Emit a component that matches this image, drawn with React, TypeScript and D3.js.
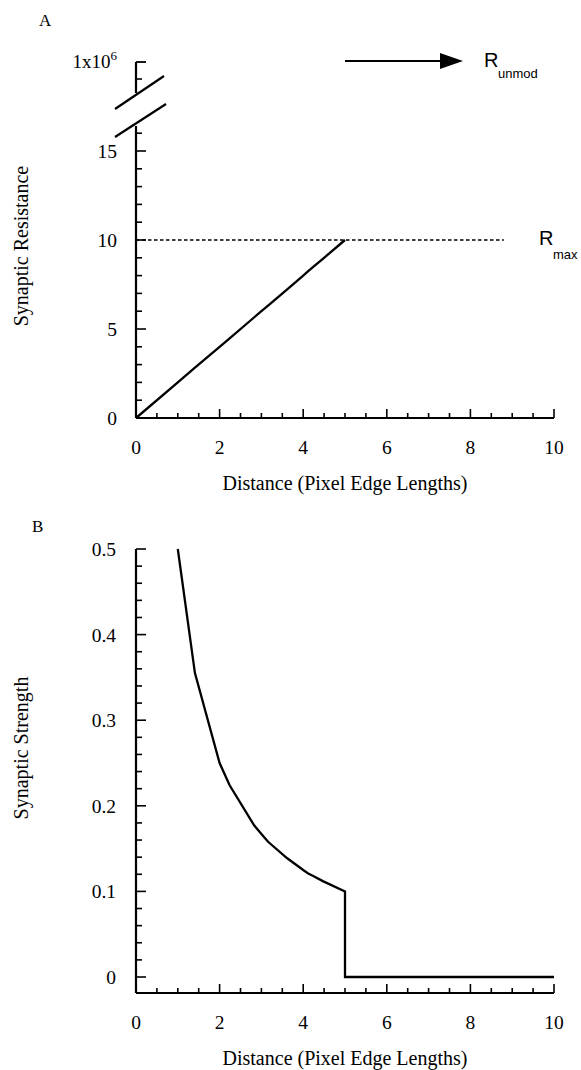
import React from "react";
import * as d3 from "d3";

// Distances (pixel edge lengths) at which the synapse values were sampled
const distances = [0, 1, 1.41, 2, 2.24, 2.83, 3, 3.16, 3.61, 4, 4.12, 4.24, 4.47, 5];
const resistance = [0, 2, 2.83, 4, 4.47, 5.66, 6, 6.32, 7.21, 8, 8.25, 8.49, 8.94, 10];

const strengthDistances = [1, 1.41, 2, 2.24, 2.83, 3, 3.16, 3.61, 4, 4.12, 4.24, 4.47, 5, 5, 10];
const strength = [0.5, 0.355, 0.25, 0.224, 0.177, 0.167, 0.158, 0.139, 0.125, 0.121, 0.118, 0.112, 0.1, 0, 0];

const rMax = 10;
const rMaxExtent = [0, 8.8];

const xTickLabels = [0, 2, 4, 6, 8, 10];
const resistanceTickLabels = [0, 5, 10, 15];
const strengthTickLabels = [0, 0.1, 0.2, 0.3, 0.4, 0.5];

const W = 581;
const H = 1070;
const serif = "'Liberation Serif', 'Times New Roman', serif";
const sans = "'Liberation Sans', Arial, sans-serif";

const x = d3.scaleLinear().domain([0, 10]).range([136, 554]);
const yA = d3.scaleLinear().domain([0, 15]).range([418, 151]);
const yB = d3.scaleLinear().domain([0, 0.5]).range([977, 549]);

const axisA = 418;
const axisB = 993;
const breakTop = 62; // position of the 1x10^6 tick above the axis break

const lineA = d3
  .line<number>()
  .x((_, i) => x(distances[i]))
  .y((d) => yA(d));

const lineB = d3
  .line<number>()
  .x((_, i) => x(strengthDistances[i]))
  .y((d) => yB(d));

function XAxis({ y0 }: { y0: number }) {
  const minor = d3.range(0, 10.001, 0.5);
  return (
    <g>
      <line x1={x(0)} x2={x(10)} y1={y0} y2={y0} stroke="#000" strokeWidth={2.2} />
      {minor.map((v) => {
        const major = Math.abs(v % 2) < 1e-6;
        return (
          <line
            key={v}
            x1={x(v)}
            x2={x(v)}
            y1={y0}
            y2={y0 - (major ? 9 : 5)}
            stroke="#000"
            strokeWidth={1.6}
          />
        );
      })}
      {xTickLabels.map((v) => (
        <text
          key={v}
          x={x(v)}
          y={y0 + 36}
          textAnchor="middle"
          fontFamily={serif}
          fontSize={19.5}
        >
          {v}
        </text>
      ))}
      <text x={x(5)} y={y0 + 72} textAnchor="middle" fontFamily={serif} fontSize={20}>
        Distance (Pixel Edge Lengths)
      </text>
    </g>
  );
}

export default function App() {
  const x0 = x(0);
  const minorA = d3.range(0, 16.001, 1);
  const minorB = d3.range(0, 0.5001, 0.02);

  return (
    <svg width={W} height={H} style={{ display: "block", position: "absolute", left: 0, top: 0 }}>
      <rect width={W} height={H} fill="#fff" />

      {/* Panel A: synaptic resistance */}
      <text x={39} y={26} fontFamily={serif} fontSize={17}>A</text>
      <text
        transform={`translate(28, 246) rotate(-90)`}
        textAnchor="middle"
        fontFamily={serif}
        fontSize={20}
      >
        Synaptic Resistance
      </text>

      {/* y axis, split by a break */}
      <line x1={x0} x2={x0} y1={breakTop} y2={93} stroke="#000" strokeWidth={2.2} />
      <line x1={x0} x2={x0} y1={yA(16.4)} y2={axisA} stroke="#000" strokeWidth={2.2} />
      <line x1={x0} x2={x0 + 10} y1={breakTop} y2={breakTop} stroke="#000" strokeWidth={1.8} />
      <line x1={x0} x2={x0 + 6} y1={79} y2={79} stroke="#000" strokeWidth={1.6} />
      <line x1={115} y1={109} x2={164} y2={76} stroke="#000" strokeWidth={2.2} />
      <line x1={115} y1={137} x2={166} y2={104} stroke="#000" strokeWidth={2.2} />
      {minorA.map((v) => {
        const major = v % 5 === 0;
        return (
          <line
            key={v}
            x1={x0}
            x2={x0 + (major ? 10 : 6)}
            y1={yA(v)}
            y2={yA(v)}
            stroke="#000"
            strokeWidth={1.6}
          />
        );
      })}
      {resistanceTickLabels.map((v) => (
        <text
          key={v}
          x={117}
          y={yA(v) + 7}
          textAnchor="end"
          fontFamily={serif}
          fontSize={19.5}
        >
          {v}
        </text>
      ))}
      <text x={117} y={68} textAnchor="end" fontFamily={serif} fontSize={19}>
        1x10<tspan dy={-8} fontSize={13}>6</tspan>
      </text>

      <XAxis y0={axisA} />

      <line
        x1={x(rMaxExtent[0])}
        x2={x(rMaxExtent[1])}
        y1={yA(rMax)}
        y2={yA(rMax)}
        stroke="#000"
        strokeWidth={1.6}
        strokeDasharray="3.5,2.5"
      />
      <path d={lineA(resistance) ?? ""} fill="none" stroke="#000" strokeWidth={2.3} />

      <text x={539} y={245} fontFamily={sans} fontSize={20}>R</text>
      <text x={553} y={259} fontFamily={sans} fontSize={13}>max</text>

      <line x1={345} x2={445} y1={61} y2={61} stroke="#000" strokeWidth={2} />
      <path d="M440,53 L463,61 L440,69 Z" fill="#000" />
      <text x={484} y={67} fontFamily={sans} fontSize={20}>R</text>
      <text x={498} y={78} fontFamily={sans} fontSize={13}>unmod</text>

      {/* Panel B: synaptic strength */}
      <text x={32} y={532} fontFamily={serif} fontSize={17}>B</text>
      <text
        transform={`translate(28, 748) rotate(-90)`}
        textAnchor="middle"
        fontFamily={serif}
        fontSize={20}
      >
        Synaptic Strength
      </text>

      <line x1={x0} x2={x0} y1={yB(0.5)} y2={axisB} stroke="#000" strokeWidth={2.2} />
      {minorB.map((v, i) => {
        const major = i % 5 === 0;
        return (
          <line
            key={i}
            x1={x0}
            x2={x0 + (major ? 10 : 6)}
            y1={yB(v)}
            y2={yB(v)}
            stroke="#000"
            strokeWidth={1.6}
          />
        );
      })}
      {strengthTickLabels.map((v) => (
        <text
          key={v}
          x={116}
          y={yB(v) + 7}
          textAnchor="end"
          fontFamily={serif}
          fontSize={19.5}
        >
          {v}
        </text>
      ))}

      <XAxis y0={axisB} />

      <path d={lineB(strength) ?? ""} fill="none" stroke="#000" strokeWidth={2.3} />
    </svg>
  );
}
